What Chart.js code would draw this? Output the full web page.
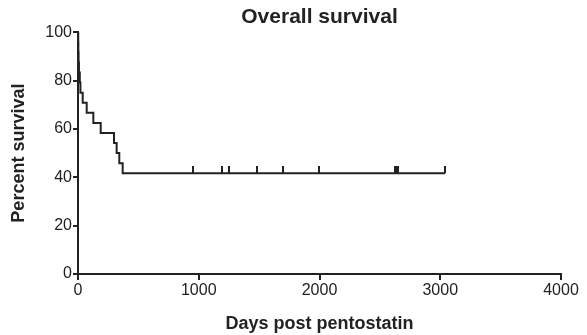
<!DOCTYPE html>
<html>
<head>
<meta charset="utf-8">
<script src="https://cdn.jsdelivr.net/npm/chart.js@4/dist/chart.umd.min.js"></script>
<style>
  html, body { margin: 0; padding: 0; background: #fff; }
  #wrap { width: 587px; height: 335px; }
</style>
</head>
<body>
<div id="wrap"><canvas id="km"></canvas></div>
<script>
// Kaplan-Meier steps (days, % surviving after that day)
const eventDays = [0, 2, 3, 5, 8, 15, 20, 39, 72, 127, 188, 298, 320, 342, 370, 3040];
const survival = [100, 95.8, 91.7, 87.5, 83.3, 79.2, 75, 70.8, 66.7, 62.5, 58.3, 54.2, 50, 45.8, 41.7, 41.7];

// censored patients (tick marks)
const censorDays = [952, 1190, 1253, 1485, 1700, 1998, 2625, 2640, 2652, 3040];
const censorSurvival = [41.7, 41.7, 41.7, 41.7, 41.7, 41.7, 41.7, 41.7, 41.7, 41.7];

const xTicks = [0, 1000, 2000, 3000, 4000];
const yTicks = [0, 20, 40, 60, 80, 100];

const ink = '#222';

// small upward tick used as censor mark
const tickImg = document.createElement('canvas');
tickImg.width = 2;
tickImg.height = 14;
const tctx = tickImg.getContext('2d');
tctx.fillStyle = ink;
tctx.fillRect(0, 0, 2, 7);

const family = 'Liberation Sans, Arial, sans-serif';
const axisFont = { family, size: 16 };
const boldFont = { family, size: 18, weight: 'bold' };

new Chart(document.getElementById('km'), {
    type: 'scatter',
    data: {
        datasets: [
            {
                data: eventDays.map((d, i) => ({ x: d, y: survival[i] })),
                showLine: true,
                stepped: 'before',
                borderColor: ink,
                borderWidth: 2,
                pointRadius: 0,
            },
            {
                data: censorDays.map((d, i) => ({ x: d, y: censorSurvival[i] })),
                pointStyle: tickImg,
                pointRadius: 7,
            },
        ],
    },
    options: {
        responsive: true,
        maintainAspectRatio: false,
        animation: false,
        layout: { padding: { left: 0, right: 26, top: 0, bottom: 0 } },
        plugins: {
            legend: { display: false },
            tooltip: { enabled: false },
            title: {
                display: true,
                text: 'Overall survival',
                color: ink,
                fullSize: false,
                font: { family, size: 21, weight: 'bold' },
                padding: { top: 5, bottom: 2 },
            },
        },
        scales: {
            x: {
                type: 'linear',
                min: 0,
                max: 4000,
                afterBuildTicks: s => { s.ticks = xTicks.map(v => ({ value: v })); },
                afterFit: s => { s.height = 61; },
                border: { color: ink, width: 2 },
                grid: { drawOnChartArea: false, drawTicks: true, tickLength: 6, color: ink, lineWidth: 2 },
                ticks: { color: ink, font: axisFont, padding: 1, maxRotation: 0, callback: v => String(v) },
                title: { display: true, text: 'Days post pentostatin', color: ink, font: boldFont, padding: { top: 0, bottom: 0 } },
            },
            y: {
                min: 0,
                max: 100,
                afterBuildTicks: s => { s.ticks = yTicks.map(v => ({ value: v })); },
                afterFit: s => { s.width = 78; },
                border: { color: ink, width: 2 },
                grid: { drawOnChartArea: false, drawTicks: true, tickLength: 5, color: ink, lineWidth: 2 },
                ticks: { color: ink, font: axisFont, padding: 1, callback: v => String(v) },
                title: { display: true, text: 'Percent survival', color: ink, font: boldFont, padding: { top: 8, bottom: 2 } },
            },
        },
    },
});
</script>
</body>
</html>
